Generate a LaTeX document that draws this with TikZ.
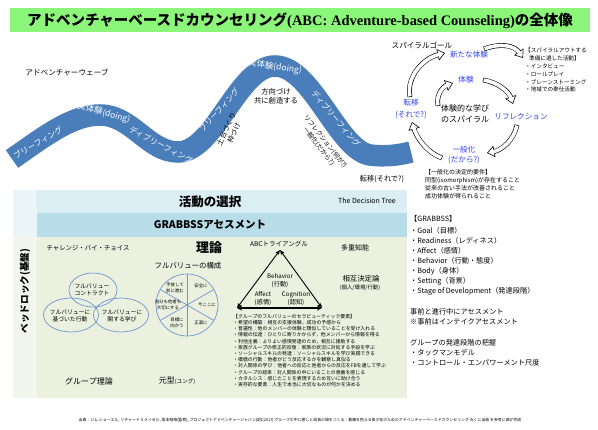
\documentclass[tikz,border=0pt]{standalone}
\usepackage{fontspec}
\setmainfont{Noto Sans CJK JP}
\newfontfamily\serifb{Liberation Serif}
\usetikzlibrary{arrows.meta,calc}
\newcommand\fz[2]{\fontsize{#1}{#2}\selectfont}
\newcommand\hollowarrow[4]{%
  \draw[line width=0.6pt, -{Triangle[fill=white, length=7.5pt, width=11.5pt]}] (#1) .. controls (#2) and (#3) .. (#4);
  \draw[line width=4.8pt, shorten >=6.9pt] (#1) .. controls (#2) and (#3) .. (#4);
  \draw[line width=3.6pt, white, shorten >=6.1pt, shorten <=0.6pt] (#1) .. controls (#2) and (#3) .. (#4);}
\definecolor{titlegreen}{RGB}{140,246,122}
\definecolor{waveblue}{RGB}{74,126,187}
\definecolor{spblue}{RGB}{45,65,235}
\definecolor{rowa}{RGB}{219,238,243}
\definecolor{rowb}{RGB}{183,221,232}
\definecolor{theo}{RGB}{235,241,222}
\definecolor{lefta}{RGB}{234,245,248}
\definecolor{leftb}{RGB}{243,246,236}
\definecolor{venn}{RGB}{110,150,210}
\begin{document}
\begin{tikzpicture}[x=1pt,y=-1pt,
  lbl/.style={inner sep=0pt, align=center},
  wl/.style={lbl, text=white, font=\fz{8}{9}},
  sb/.style={lbl, text=spblue, font=\fz{7.6}{11}},
  vt/.style={lbl, font=\fz{5.8}{7.2}},
  pt/.style={lbl, font=\fz{4.4}{5.4}},
  lst/.style={inner sep=0pt, align=left, anchor=north west}]
\useasboundingbox (0,0) rectangle (598,430);
% title
\fill[titlegreen] (10,8) rectangle (590,32);
\node[lbl, font=\fz{14.5}{15}\bfseries] (title) at (300,20.5) {アドベンチャーベースドカウンセリング{\serifb(ABC: Adventure-based Counseling)}の全体像};
% wave
\node[lbl, font=\fz{7.6}{9}] (wavet) at (67,73) {アドベンチャーウェーブ};
\draw[waveblue, line width=21.5pt] (12,159) .. controls (45,136) and (72,115) .. (100,115) .. controls (132,115) and (148,152) .. (178,152) .. controls (215,152) and (238,66) .. (275,66) .. controls (312,66) and (338,150) .. (370,155) .. controls (385,157) and (400,155) .. (411,152);
\node[wl, rotate=31] (w1) at (38,143) {ブリーフィング};
\node[wl, rotate=-15, font=\fz{8.5}{9}] (w2) at (104,113) {実体験(doing)};
\node[wl, rotate=-28] (w3) at (161,145) {ディブリーフィング};
\node[wl, rotate=48] (w4) at (219,110) {ブリーフィング};
\node[wl, rotate=-8, font=\fz{8.5}{9}] (w5) at (275,67) {実体験(doing)};
\node[wl, rotate=-50] (w6) at (336,119) {ディブリーフィング};
\node[lbl, rotate=65, font=\fz{7}{8.5}] (basis) at (230,131) {土台づくり\\枠づけ};
\node[lbl, font=\fz{7.3}{9.5}] (direc) at (276,96) {方向づけ\\共に創造する};
\node[lbl, rotate=-52, font=\fz{6.4}{8.5}] (refl) at (322,144) {リフレクション(何が?)\\一般化(だから?)};
\node[lbl, font=\fz{7.2}{8}] (trans) at (382,179) {転移(それで?)};
% spiral
\node[lbl, font=\fz{7.6}{9}] (sgoal) at (422,45) {スパイラルゴール};
\node[sb] (newx) at (469,55) {新たな体験};
\node[sb] (expr) at (466,80) {体験};
\node[lbl, font=\fz{8}{11}] (spir) at (465,114) {体験的な学び\\のスパイラル};
\node[sb] (refx) at (521,117) {リフレクション};
\node[sb, font=\fz{7.6}{12}] (trx) at (411,109) {転移\\(それで?)};
\node[sb, font=\fz{7.6}{10.5}] (genx) at (464,155) {一般化\\(だから?)};
\node[lst, font=\fz{5.6}{7.8}] (sout) at (525,48) {【スパイラルアウトする\\\hspace{4pt}準備に適した活動】\\・インタビュー\\・ロールプレイ\\・ブレーンストーミング\\・地域での奉仕活動};
\node[lst, font=\fz{6}{8.2}] (req) at (425,169) {【一般化の決定的要件】\\同型(isomorphism)が存在すること\\従来の古い手法が改善されること\\成功体験が得られること};
\coordinate (a1s) at (410,97); \coordinate (a1e) at (445,53);
\coordinate (a1p) at (406,76); \coordinate (a1q) at (424,58);
\hollowarrow{a1s}{a1p}{a1q}{a1e}
\coordinate (a2s) at (484,49); \coordinate (a2e) at (523,58);
\coordinate (a2p) at (500,43); \coordinate (a2q) at (514,45);
\hollowarrow{a2s}{a2p}{a2q}{a2e}
\coordinate (a3s) at (483,80); \coordinate (a3e) at (513,104);
\coordinate (a3p) at (498,82); \coordinate (a3q) at (509,92);
\hollowarrow{a3s}{a3p}{a3q}{a3e}
\coordinate (a4s) at (517,125); \coordinate (a4e) at (487,153);
\coordinate (a4p) at (514,140); \coordinate (a4q) at (502,150);
\hollowarrow{a4s}{a4p}{a4q}{a4e}
\coordinate (a5s) at (442,158); \coordinate (a5e) at (412,122);
\coordinate (a5p) at (428,153); \coordinate (a5q) at (417,139);
\hollowarrow{a5s}{a5p}{a5q}{a5e}
\coordinate (a6s) at (438,106); \coordinate (a6e) at (453,83);
\coordinate (a6p) at (436,96); \coordinate (a6q) at (442,87);
\hollowarrow{a6s}{a6p}{a6q}{a6e}
% panel
\fill[rowa] (37,190) rectangle (407,213);
\fill[rowb] (37,213) rectangle (407,237);
\fill[theo] (37,237) rectangle (407,398);
\fill[lefta] (13,190) rectangle (37,237);
\fill[leftb] (13,237) rectangle (37,398);
\node[lbl, font=\fz{12.5}{13}\bfseries] (act) at (210,201.5) {活動の選択};
\node[lbl, font=\fz{7}{8}] (dtree) at (367,201) {The Decision Tree};
\node[lbl, font=\fz{10.5}{11}\bfseries] (grab) at (210,225) {GRABBSSアセスメント};
\node[lbl, rotate=90, font=\fz{9.6}{10}\bfseries] (bed) at (25,291) {ベッドロック(基盤)};
\node[lbl, font=\fz{13}{13}\bfseries] (theory) at (209,248) {理論};
\node[lbl, font=\fz{6.4}{7}] (cbc) at (88,248) {チャレンジ・バイ・チョイス};
\node[lbl, font=\fz{7.4}{8}] (fvs) at (188,265.5) {フルバリューの構成};
\node[lbl, font=\fz{6.5}{7}] (abct) at (279,243.5) {ABCトライアングル};
\node[lbl, font=\fz{7}{8}] (mi) at (355,248) {多重知能};
\node[lbl, font=\fz{7.4}{8}] (rd) at (361,279) {相互決定論};
\node[lbl, font=\fz{5.4}{6}] (rd2) at (360,288) {(個人/環境/行動)};
% venn
\draw[venn, line width=0.7pt] (93,290) ellipse [x radius=24, y radius=17];
\draw[venn, line width=0.7pt] (71,315) ellipse [x radius=27.5, y radius=17];
\draw[venn, line width=0.7pt] (121,315) ellipse [x radius=27.5, y radius=17];
\node[vt] (v1) at (92,290) {フルバリュー\\コントラクト};
\node[vt] (v2) at (70,316) {フルバリューに\\基づいた行動};
\node[vt] (v3) at (122,316) {フルバリューに\\関する学び};
% pie
\coordinate (pie) at (187,305);
\draw[venn, line width=0.7pt] (pie) circle (31);
\draw[venn, line width=0.7pt] (187,274) -- (187,336);
\draw[venn, line width=0.7pt] ($(pie)+(-26.85,-15.5)$) -- ($(pie)+(26.85,15.5)$);
\draw[venn, line width=0.7pt] ($(pie)+(-26.85,15.5)$) -- ($(pie)+(26.85,-15.5)$);
\node[pt] (p1) at (175,288) {手放して\\前に進む};
\node[pt] (p2) at (201,286) {安全に};
\node[pt] (p3) at (207,305) {今ここに};
\node[pt] (p4) at (201,323) {正直に};
\node[pt] (p5) at (177,323) {目標に\\向かう};
\node[pt] (p6) at (168,305) {自分も他者も\\大切にする};
% triangle
\coordinate (ta) at (280,250); \coordinate (tb) at (237,308); \coordinate (tc) at (322,308);
\draw[line width=0.9pt, {Stealth[length=5pt,width=4pt]}-{Stealth[length=5pt,width=4pt]}] (ta) -- (tb);
\draw[line width=0.9pt, {Stealth[length=5pt,width=4pt]}-{Stealth[length=5pt,width=4pt]}] (ta) -- (tc);
\draw[line width=1.6pt, {Stealth[length=5pt,width=5pt]}-{Stealth[length=5pt,width=5pt]}] (tb) -- (tc);
\node[lbl, font=\fz{6.2}{8}] (beh) at (280,281) {Behavior\\(行動)};
\node[lbl, font=\fz{6.2}{8}] (aff) at (263,299) {Affect\\(感情)};
\node[lbl, font=\fz{6.2}{8}] (cog) at (296,299) {Cognition\\(認知)};
\node[lst, font=\fz{4.9}{6.2}] (ther) at (233,314) {【グループのフルバリューのセラピューティック要素】\\・希望の構築：相互の支援体験，成功の予感から\\・普遍性：他のメンバーの体験と類似していることを受け入れる\\・情報の伝達：ひとりに寄りかからず，他メンバーから情報を得る\\・利他主義：よりよい感情発達のため，相互に援助する\\・家族グループの修正的反復：家族の状況に対処する手段を学ぶ\\・ソーシャルスキルの発達：ソーシャルスキルを学び実践できる\\・模倣の行動：他者がどう反応するかを観察し真似る\\・対人関係の学び：他者への反応と他者からの反応をFBを通して学ぶ\\・グループの結束：対人関係の中にいることの意義を感じる\\・カタルシス：感じたことを表現するため互いに助け合う\\・実存的な要素：人生で本当に大切なものが何かを決める};
\node[lbl, font=\fz{8}{9}] (gth) at (89,381) {グループ理論};
\node[lbl, font=\fz{8}{9}] (arch) at (177,381) {元型{\fz{5.5}{6}(ユング)}};
% right column
\node[lst, font=\fz{7.2}{10}] (gr) at (410,215.5) {【GRABBSS】\\[1.7pt]・Goal（目標）\\・Readiness（レディネス）\\・Affect（感情）\\・Behavior（行動・態度）\\・Body（身体）\\・Setting（背景）\\・Stage of Development（発達段階）};
\node[lst, font=\fz{7.2}{10}] (pre) at (410,308.5) {事前と進行中にアセスメント\\※事前はインテイクアセスメント};
\node[lst, font=\fz{7.2}{10}] (gd) at (410,339.5) {グループの発達段階の把握\\・タックマンモデル\\・コントロール・エンパワーメント尺度};
% footer
\node[lbl, font=\fz{3.9}{4}] (src) at (300,420) {出典：ジム ショーエル, リチャード S.メイゼル, 坂本昭裕(監修), プロジェクトアドベンチャージャパン(訳)(2017) グループの中に癒しと成長の場をつくる：葛藤を抱える青少年のためのアドベンチャーベースドカウンセリング みくに出版 を参考に森が作成};
\end{tikzpicture}
\end{document}
